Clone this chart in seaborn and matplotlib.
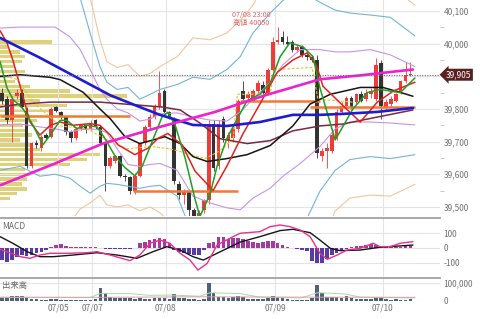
import matplotlib
matplotlib.use("Agg")
import matplotlib.pyplot as plt
import matplotlib.transforms as mtransforms
from matplotlib.ticker import FixedLocator, FuncFormatter
import numpy as np
import seaborn as sns

# ---------------- data ----------------
candle_open = [39850, 39830, 39765, 39840, 39850, 39795, 39625, 39695, 39680, 39720,
               39715, 39805, 39790, 39775, 39730, 39710, 39740, 39750, 39740, 39765,
               39745, 39695, 39625, 39640, 39655, 39595, 39590, 39550, 39595, 39695,
               39745, 39775, 39805, 39855, 39790, 39765, 39570, 39535, 39550, 39490,
               39450, 39490, 39520, 39755, 39625, 39770, 39705, 39710, 39740, 39855,
               39835, 39825, 39855, 39875, 39850, 39920, 40005, 40020, 40005, 40005,
               39980, 39990, 39965, 39960, 39950, 39655, 39670, 39670, 39710, 39790,
               39810, 39835, 39820, 39845, 39830, 39845, 39830, 39940, 39805, 39815,
               39825, 39850, 39885, 39905]
candle_high = [39865, 39840, 39840, 39860, 39860, 39805, 39700, 39705, 39720, 39725,
               39805, 39810, 39795, 39780, 39735, 39745, 39755, 39755, 39765, 39770,
               39750, 39700, 39655, 39660, 39660, 39600, 39595, 39605, 39700, 39750,
               39785, 39815, 39915, 39860, 39795, 39775, 39580, 39555, 39555, 39495,
               39490, 39525, 39765, 39765, 39765, 39780, 39730, 39745, 39830, 39885,
               39855, 39860, 39890, 39885, 39925, 40020, 40050, 40040, 40025, 40010,
               39995, 39995, 39970, 39965, 39965, 39680, 39695, 39725, 39800, 39820,
               39840, 39840, 39850, 39855, 39860, 39865, 39955, 39950, 39830, 39840,
               39850, 39890, 39945, 39945]
candle_low = [39815, 39755, 39700, 39830, 39800, 39620, 39620, 39680, 39670, 39705,
              39710, 39790, 39770, 39720, 39700, 39705, 39735, 39725, 39735, 39740,
              39690, 39550, 39620, 39635, 39590, 39580, 39540, 39540, 39590, 39690,
              39740, 39770, 39800, 39785, 39770, 39570, 39525, 39510, 39470, 39440,
              39440, 39480, 39510, 39610, 39615, 39700, 39680, 39700, 39730, 39825,
              39825, 39820, 39850, 39845, 39845, 39915, 40000, 40000, 39995, 39975,
              39975, 39960, 39950, 39945, 39650, 39640, 39620, 39665, 39705, 39785,
              39800, 39800, 39815, 39820, 39825, 39835, 39825, 39770, 39795, 39805,
              39820, 39845, 39880, 39900]
candle_close = [39825, 39765, 39830, 39850, 39805, 39625, 39695, 39690, 39715, 39710,
                39800, 39795, 39780, 39730, 39710, 39740, 39750, 39735, 39755, 39745,
                39695, 39625, 39650, 39655, 39595, 39590, 39550, 39595, 39695, 39745,
                39775, 39805, 39850, 39790, 39780, 39580, 39535, 39550, 39490, 39460,
                39480, 39520, 39755, 39620, 39755, 39710, 39720, 39740, 39825, 39830,
                39845, 39855, 39880, 39850, 39920, 40005, 40010, 40005, 40000, 39980,
                39990, 39965, 39960, 39950, 39665, 39670, 39680, 39720, 39790, 39810,
                39835, 39805, 39845, 39825, 39850, 39855, 39935, 39810, 39820, 39830,
                39845, 39885, 39905, 39905]
volume = [22000, 20000, 28000, 25000, 25000, 22000, 10000, 8000, 6000, 6000,
          12000, 8000, 6000, 5000, 4000, 4000, 4000, 5000, 5000, 10000,
          72000, 45000, 20000, 15000, 15000, 18000, 15000, 10000, 15000, 12000,
          12000, 15000, 18000, 15000, 12000, 36000, 15000, 15000, 10000, 8000,
          5000, 12000, 98000, 45000, 20000, 20000, 18000, 20000, 25000, 20000,
          12000, 10000, 10000, 12000, 15000, 28000, 20000, 15000, 10000, 5000,
          5000, 5000, 5000, 15000, 89000, 41000, 20000, 20000, 20000, 18000,
          28000, 15000, 12000, 10000, 10000, 12000, 15000, 15000, 10000, 5000,
          8000, 5000, 5000, 8000]
macd_hist = [-82, -95, -82, -60, -50, -55, -50, -37, -25, -14,
             5, 20, 25, 16, 9, 5, 5, 8, 10, 8,
             3, -5, -10, -10, -10, -8, -5, -3, 32, 43,
             54, 59, 66, 59, 32, -14, -25, -36, -43, -48,
             -48, -14, 36, 43, 72, 72, 59, 66, 66, 59,
             50, 39, 32, 41, 48, 48, 36, 20, 9, 0,
             -9, -16, -20, -86, -100, -100, -77, -48, -32, -18,
             -5, 9, 11, 14, 18, 27, 20, 14, 9, 9,
             9, 9, 14, 11]

# moving averages (candle position, price)
ma_green_x = [-0.4, 1, 2.2, 4.3, 6.3, 8.3, 9.8, 11.8, 13.2, 15.2, 17.3, 19.3, 20.9, 23, 25, 27,
              28.5, 30.5, 32.5, 33.7, 35.2, 37.2, 39.2, 40.2, 42.3, 43.7, 45.7, 47.8, 49.8, 52.4,
              54.5, 56.5, 58.5, 61.2, 63.2, 64.6, 67.7, 71.3, 74.2, 76.8, 80.9, 83.9]
ma_green_y = [39945, 39865, 39830, 39800, 39750, 39690, 39720, 39765, 39765, 39740, 39750, 39745,
              39710, 39655, 39620, 39595, 39625, 39700, 39775, 39790, 39750, 39650, 39525, 39470,
              39540, 39625, 39710, 39770, 39825, 39845, 39880, 39960, 40003, 39990, 39960, 39865,
              39705, 39800, 39850, 39860, 39850, 39895]
ma_red_x = [-0.4, 1, 2.2, 5.7, 7.7, 9.8, 11.8, 14.4, 17.9, 19.9, 22, 23.6, 27, 29.7, 31.7, 33.7,
            36.6, 39.2, 42.9, 45.7, 49, 52.4, 55.9, 59.1, 62, 64, 65.2, 69.3, 72.8, 76.2, 79.5, 83.9]
ma_red_y = [40040, 40003, 39950, 39760, 39720, 39750, 39760, 39750, 39755, 39750, 39720, 39690,
            39660, 39680, 39710, 39725, 39690, 39610, 39550, 39625, 39725, 39815, 39912, 39950,
            39972, 39930, 39870, 39810, 39760, 39820, 39855, 39882]
ma_black_x = [-0.4, 3.7, 9.8, 11.8, 16.5, 19.9, 22, 25, 28, 33.1, 36.2, 38.8, 41.7, 45.7, 49.8,
              54.5, 59.1, 62.6, 66.7, 72.8, 77.4, 80.9, 83.5]
ma_black_y = [39900, 39905, 39897, 39890, 39851, 39800, 39770, 39715, 39694, 39715, 39694, 39654,
              39639, 39648, 39660, 39688, 39748, 39815, 39845, 39866, 39866, 39851, 39839]
ma_maroon_x = [-0.4, 3.7, 9.8, 19.9, 27.6, 32.5, 36.2, 40.2, 44.3, 49.8, 54.5, 59.1, 64.6, 69.3,
               76.2, 83.5]
ma_maroon_y = [39806, 39815, 39821, 39821, 39812, 39806, 39797, 39757, 39709, 39694, 39703, 39733,
               39748, 39754, 39775, 39797]
ma_blue_x = [-0.4, 7.7, 15.9, 22, 28, 32.1, 38.8, 45.7, 52.4, 59.1, 64.6, 69.3, 76.2, 83.5]
ma_blue_y = [40018, 39957, 39891, 39842, 39806, 39782, 39751, 39748, 39760, 39782, 39782, 39785,
             39791, 39803]
ma_magenta_x = [-0.4, 9.8, 20.5, 32.1, 43.3, 53.5, 64.6, 72.8, 83.5]
ma_magenta_y = [39566, 39627, 39694, 39745, 39791, 39842, 39891, 39903, 39921]
trend_dash_x = [1.6, 3.0, 6.7, 11.8, 17.3, 20.9, 23.6, 25.6, 30.1, 34.1, 39.2, 41.3, 44.3, 47.0,
                47.8, 54.5, 55.3, 63.0, 64.2, 71.3]
trend_dash_y = [39897, 39891, 39815, 39748, 39739, 39709, 39688, 39678, 39685, 39678, 39657, 39648,
                39672, 39709, 39845, 39845, 39921, 39927, 39830, 39821]

# Bollinger bands
band_x = [-0.4, 3.7, 7.7, 10.8, 13.8, 15.9, 17.9, 19.9, 21.3, 23.4, 25.6, 28.0, 30.1, 32.1, 35.6,
          38.8, 42.3, 45.7, 48.4, 51.0, 54.5, 57.1, 60.6, 64.6, 67.7, 70.7, 74.8, 78.9, 83.9]
band_up3 = [40345, 40351, 40357, 40360, 40315, 40221, 40142, 40012, 39945, 39927, 39936, 39900,
            39909, 39930, 39960, 40018, 40012, 40033, 40072, 40118, 40224, 40285, 40315, 40300,
            40269, 40254, 40224, 40178, 40118]
band_up2 = [40197, 40209, 40209, 40203, 40166, 40139, 40033, 39930, 39882, 39860, 39866, 39830,
            39845, 39860, 39875, 39897, 39891, 39921, 39960, 40033, 40094, 40133, 40163, 40127,
            40103, 40094, 40088, 40081, 40024]
band_up1 = [40048, 40051, 40051, 40051, 40021, 39982, 39921, 39860, 39830, 39800, 39788, 39763,
            39769, 39785, 39788, 39775, 39766, 39763, 39791, 39830, 39882, 39936, 39982, 39982,
            39975, 39975, 39982, 39966, 39930]
band_lo1 = [39751, 39754, 39745, 39739, 39730, 39736, 39739, 39736, 39727, 39678, 39630, 39624,
            39630, 39633, 39612, 39533, 39512, 39497, 39491, 39527, 39557, 39594, 39633, 39685,
            39739, 39760, 39760, 39757, 39751]
band_lo2 = [39612, 39624, 39594, 39600, 39588, 39563, 39542, 39563, 39572, 39569, 39563, 39557,
            39563, 39566, 39533, 39412, 39388, 39376, 39360, 39345, 39360, 39376, 39421, 39548,
            39612, 39645, 39654, 39648, 39660]
band_lo3 = [39454, 39451, 39442, 39436, 39451, 39494, 39512, 39536, 39506, 39500, 39506, 39488,
            39500, 39482, 39430, 39291, 39254, 39224, 39194, 39163, 39163, 39194, 39254, 39376,
            39488, 39527, 39536, 39533, 39569]

# horizontal price levels
level_price = [39780, 39550, 39825, 39805]
level_start = [-0.4, 26.6, 48.4, 62.6]
level_end = [26.0, 48.0, 64.6, 83.9]

# price-by-volume profile
profile_price = [40005, 39990, 39975, 39960, 39945, 39930, 39915, 39900, 39885, 39870, 39855,
                 39840, 39825, 39810, 39795, 39780, 39765, 39750, 39735, 39720, 39705, 39690,
                 39675, 39660, 39645, 39630, 39615, 39600, 39585, 39570, 39555, 39540, 39525]
profile_volume = [52, 8, 20, 25, 22, 15, 25, 10, 15, 30, 70, 127, 40, 67, 50, 25, 37, 23, 25,
                  32, 20, 33, 40, 100, 87, 70, 25, 30, 27, 22, 27, 17, 10]

# MACD lines
macd_x = [-0.4, 3.7, 5.7, 7.7, 9.8, 13.2, 17.3, 19.3, 22, 26, 28, 30.1, 32.1, 34.1, 36.2, 38.2,
          39.8, 41.7, 43.7, 46.3, 48.4, 52.4, 54.5, 56.5, 58.5, 60.6, 62.6, 64.6, 66.1, 68.1,
          70.1, 72.8, 75.4, 76.8, 78.9, 80.9, 83.5]
macd_y = [-9, -59, -70, -48, -36, -36, -32, -25, -48, -86, -48, 32, 54, 32, -36, -82, -150, -104,
          20, 66, 100, 111, 145, 156, 145, 122, 77, -36, -77, -48, -14, -2, 32, 9, 9, 32, 43]
signal_x = [-0.4, 2.2, 5.1, 7.7, 10.4, 14.4, 19.3, 23.4, 27.4, 30.7, 33.5, 36.2, 38.8, 40.9, 43.7,
            48.4, 52.4, 56.5, 59.1, 62.6, 64.6, 66.7, 68.7, 72.8, 76.8, 80.9, 83.5]
signal_y = [77, 32, -25, -59, -59, -48, -32, -48, -70, -25, 9, -14, -59, -82, -36, 40, 77, 118,
            127, 104, 54, -2, -18, -14, 5, 14, 20]

# volume moving averages
vol_ma1_x = [-0.4, 17.9, 19.9, 26, 30.1, 34.1, 40.2, 42.3, 48.4, 52.4, 60.6, 64.2, 69.7, 72.8, 83.9]
vol_ma1_y = [18000, 18000, 40000, 40000, 30000, 32000, 25000, 45000, 40000, 20000, 15000, 45000,
             38000, 20000, 15000]
vol_ma2_x = [-0.4, 20, 40, 60, 83.9]
vol_ma2_y = [20000, 19000, 22000, 20000, 19000]

date_labels = ["07/05", "07/07", "07/08", "07/09", "07/10"]
date_pos = [11.4, 18.3, 33.3, 55.5, 77.4]
price_ticks = [39500, 39600, 39700, 39800, 39900, 40000, 40100]
price_minor = [39550, 39650, 39750, 39850, 39950, 40050]
macd_ticks = [-100, 0, 100]
vol_ticks = [0, 100000]
high_label = ["07/08 23:00", "高値 40050"]
high_index = 56

# ---------------- styling ----------------
sns.set_style("white")
plt.rcParams['font.family'] = ['Noto Sans CJK JP', 'DejaVu Sans']
plt.rcParams['axes.unicode_minus'] = False

W, H = 480, 319
fig = plt.figure(figsize=(W / 100, H / 100), dpi=100)
fig.patch.set_facecolor('white')


def rect(top, bottom, left=0, right=440):
    return [left / W, 1 - bottom / H, (right - left) / W, (bottom - top) / H]


XLIM = (-0.41, 89.0)
PLIM = (39472, 40134)
GRID = '#e4e4e4'
TXT = '#707070'
last = candle_close[-1]

ax_prof = fig.add_axes(rect(0, 216), zorder=0)
ax = fig.add_axes(rect(0, 216), zorder=1)
ax_m = fig.add_axes(rect(217.5, 277), zorder=1)
ax_v = fig.add_axes(rect(278, 301), zorder=1)
ax.patch.set_alpha(0)

# volume profile
ax_prof.barh(profile_price, profile_volume, height=10, color='#dccb6c', alpha=0.9, linewidth=0)
ax_prof.set_xlim(0, 440)
ax_prof.set_ylim(*PLIM)
ax_prof.axis('off')


def line(a, xs, ys, color, lw, z=3, **kw):
    sns.lineplot(x=xs, y=ys, ax=a, color=color, linewidth=lw, estimator=None, sort=False,
                 legend=False, zorder=z, **kw)


# candles
o = np.array(candle_open, float)
h = np.array(candle_high, float)
l = np.array(candle_low, float)
c = np.array(candle_close, float)
idx = np.arange(len(o))
up = c >= o
ccol = np.where(up, '#f03b3b', '#333333')
ax.vlines(idx, l, h, colors=ccol, linewidth=0.6, zorder=2)
ax.bar(idx, np.maximum(np.abs(c - o), 1.5), bottom=np.minimum(o, c), width=0.74,
       color=ccol, linewidth=0, zorder=2.1)

# bands
for ys, col in [(band_up3, '#f4c59c'), (band_lo3, '#f4c59c'),
                (band_up2, '#72b4d6'), (band_lo2, '#72b4d6'),
                (band_up1, '#c794e4'), (band_lo1, '#c794e4')]:
    line(ax, band_x, ys, col, 0.8, z=2.5)

# price levels
for p, s, e in zip(level_price, level_start, level_end):
    ax.hlines(p, s, e, color='#f07a32', linewidth=1.8, zorder=2.6)

ax.plot(trend_dash_x, trend_dash_y, color='#e8c22a', linewidth=0.8, ls=(0, (2.5, 1.5)), zorder=2.7)
line(ax, ma_maroon_x, ma_maroon_y, '#7b2840', 1.1)
line(ax, ma_black_x, ma_black_y, '#151515', 1.1)
line(ax, ma_red_x, ma_red_y, '#e3221e', 1.1)
line(ax, ma_green_x, ma_green_y, '#1f9e1f', 1.1)
line(ax, ma_blue_x, ma_blue_y, '#1c1cd0', 1.9, z=3.2)
line(ax, ma_magenta_x, ma_magenta_y, '#ec22d0', 1.9, z=3.3)

ax.axhline(last, color='#6a6a6a', linewidth=0.8, ls=(0, (1, 1.3)), zorder=3.5)
btr = mtransforms.blended_transform_factory(ax.transAxes, ax.transData)
ax.text(1.0 + 6 / 440, last, f"{last:,.0f}", transform=btr, fontsize=6, color='white',
        va='center', ha='left',
        bbox=dict(boxstyle='larrow,pad=0.18', fc='#5a2020', ec='none'))

ax.text(high_index - 5.4, 40087, high_label[0], fontsize=5.2, color='#e06464', ha='center', va='center')
ax.text(high_index - 5.4, 40064, high_label[1], fontsize=5.2, color='#e06464', ha='center', va='center')

ax.set_xlim(*XLIM)
ax.set_ylim(*PLIM)
ax.xaxis.set_major_locator(FixedLocator(date_pos))
ax.yaxis.tick_right()
ax.set_yticks(price_ticks)
ax.set_yticks(price_minor, minor=True)
# the current-price marker covers the nearby tick label
ax.yaxis.set_major_formatter(FuncFormatter(
    lambda v, p: '' if abs(v - last) < 30 else f"{v:,.0f}"))
ax.tick_params(axis='x', length=0, labelbottom=False)
ax.tick_params(axis='y', which='major', length=0, pad=2.5, labelsize=6, labelcolor=TXT)
ax.tick_params(axis='y', which='minor', length=3, width=0.7, color='#c8c8c8')
ax.grid(True, which='major', color=GRID, linewidth=0.8)
ax.set_axisbelow(True)

# MACD
hist = np.array(macd_hist, float)
ax_m.bar(idx, hist, width=0.74, color=np.where(hist >= 0, '#a33a9f', '#5a3aa6'), linewidth=0, zorder=2)
line(ax_m, signal_x, signal_y, '#151515', 1.0)
line(ax_m, macd_x, macd_y, '#e8308c', 1.0)
ax_m.set_xlim(*XLIM)
ax_m.set_ylim(-197, 207)
ax_m.xaxis.set_major_locator(FixedLocator(date_pos))
ax_m.yaxis.tick_right()
ax_m.set_yticks(macd_ticks)
ax_m.tick_params(axis='x', length=0, labelbottom=False)
ax_m.tick_params(axis='y', length=0, pad=2.5, labelsize=6, labelcolor=TXT)
ax_m.grid(True, color=GRID, linewidth=0.8)
ax_m.set_axisbelow(True)
ax_m.text(0.004, 0.92, 'MACD', transform=ax_m.transAxes, fontsize=6, color='#666666', va='top', ha='left')

# Volume
ax_v.bar(idx, volume, width=0.74, color='#4f607c', linewidth=0, zorder=2)
line(ax_v, vol_ma1_x, vol_ma1_y, '#a6dca0', 0.7)
line(ax_v, vol_ma2_x, vol_ma2_y, '#d8a0a8', 0.7)
ax_v.set_xlim(*XLIM)
ax_v.set_ylim(-1700, 128000)
ax_v.set_xticks(date_pos)
ax_v.set_xticklabels(date_labels)
ax_v.yaxis.tick_right()
ax_v.set_yticks(vol_ticks)
ax_v.yaxis.set_major_formatter(FuncFormatter(lambda v, p: f"{v:,.0f}"))
ax_v.tick_params(axis='x', length=0, pad=2, labelsize=6, labelcolor=TXT)
ax_v.tick_params(axis='y', length=0, pad=2.5, labelsize=6, labelcolor=TXT)
ax_v.grid(True, color=GRID, linewidth=0.8)
ax_v.set_axisbelow(True)
ax_v.text(0.004, 0.88, '出来高', transform=ax_v.transAxes, fontsize=6, color='#666666', va='top', ha='left')

for a in (ax, ax_m, ax_v):
    for s in a.spines.values():
        s.set_visible(False)
    a.set_xlabel('')
    a.set_ylabel('')
for a in (ax_m, ax_v):
    a.spines['top'].set_visible(True)
    a.spines['top'].set_color('#a8a8a8')
    a.spines['top'].set_linewidth(1.4)

fig.savefig('out.png', dpi=100, facecolor='white')
